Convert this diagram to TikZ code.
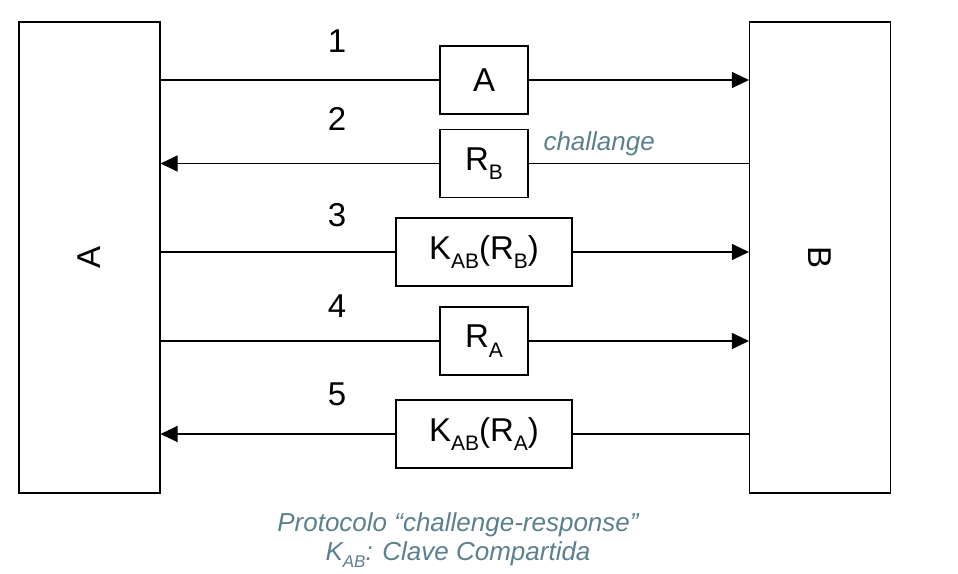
\documentclass[tikz,border=0pt]{standalone}
\usepackage{fontspec}
\setmainfont{Liberation Sans}
\usetikzlibrary{arrows.meta}
\definecolor{capblue}{RGB}{92,128,142}
\newcommand\sbs[1]{\raisebox{-0.55ex}{\fontsize{21}{21}\selectfont #1}}
\begin{document}
\begin{tikzpicture}[x=1pt,y=-1pt,
  party/.style={draw, line width=1.1pt, minimum width=141pt, minimum height=471pt, inner sep=0pt},
  msg/.style={draw, line width=1.1pt, minimum height=68pt, inner sep=0pt, font=\fontsize{33}{33}\selectfont},
  num/.style={font=\fontsize{33}{33}\selectfont},
  wire/.style={line width=1.1pt},
  arr/.style={line width=1.1pt, -{Triangle[length=17pt,width=16pt]}},
  note/.style={text=capblue, font=\fontsize{26}{29}\selectfont\itshape}]
\useasboundingbox (0,0) rectangle (958,573);
\node[party] (pa) at (89.5,257.5) {};
\node[party] (pb) at (820,257.5) {};
\node[rotate=90, font=\fontsize{33}{33}\selectfont] (la) at (pa.center) {A};
\node[rotate=-90, font=\fontsize{33}{33}\selectfont] (lb) at (pb.center) {B};
% boxes
\node[msg, minimum width=88pt] (m1) at (484,80) {A};
\node[msg, minimum width=88pt] (m2) at (484,163.5) {R\sbs{B}};
\node[msg, minimum width=176pt] (m3) at (484,252) {K\sbs{AB}(R\sbs{B})};
\node[msg, minimum width=88pt] (m4) at (484,341) {R\sbs{A}};
\node[msg, minimum width=176pt] (m5) at (484,434) {K\sbs{AB}(R\sbs{A})};
% numbers
\node[num] (n1) at (337,41) {1};
\node[num] (n2) at (337,119) {2};
\node[num] (n3) at (337,215) {3};
\node[num] (n4) at (337,306) {4};
\node[num] (n5) at (337,394) {5};
% wires
\foreach \m in {m1,m3,m4}{
  \draw[wire] (pa.east|-\m.west) -- (\m.west);
  \draw[arr] (\m.east) -- (pb.west|-\m.east);
}
\foreach \m in {m2,m5}{
  \draw[wire] (pb.west|-\m.east) -- (\m.east);
  \draw[arr] (\m.west) -- (pa.east|-\m.west);
}
\node[note, anchor=west] (ch) at (540,144) {challange};
\node[note, align=center] (cap) at (458,540) {Protocolo “challenge-response”\\K\raisebox{-0.45ex}{\fontsize{17}{17}\selectfont AB}: Clave Compartida};
\end{tikzpicture}
\end{document}
